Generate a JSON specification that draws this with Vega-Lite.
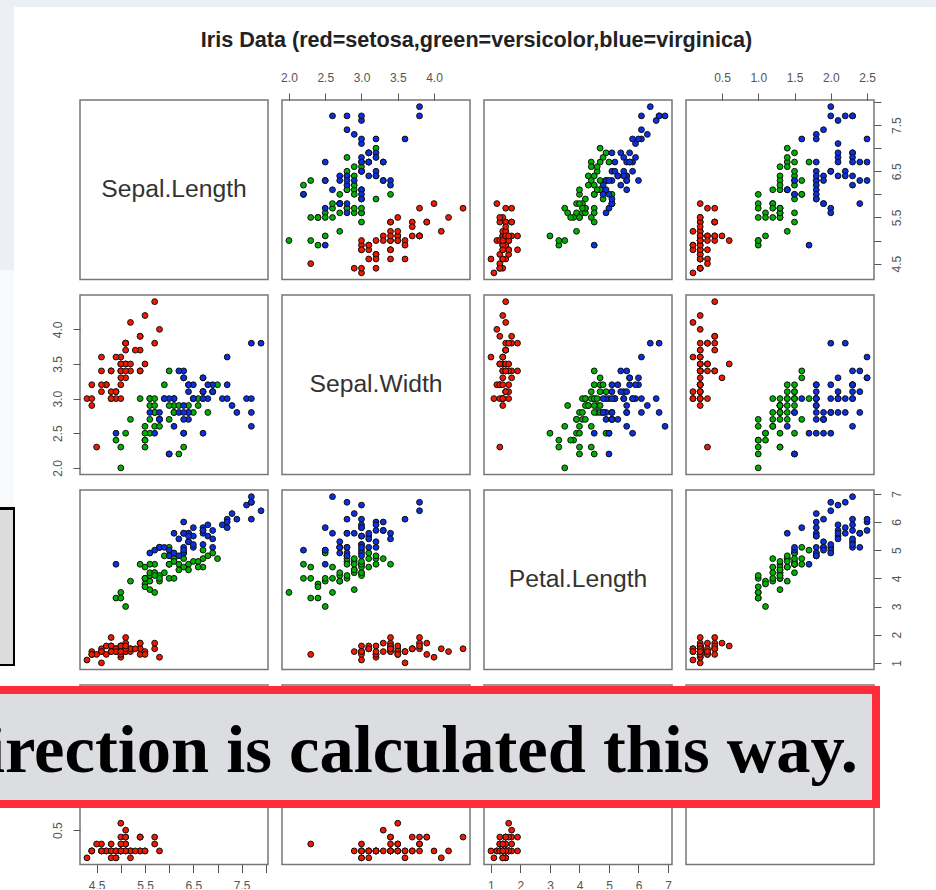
{"$schema":"https://vega.github.io/schema/vega-lite/v6.json","padding":{"left":-15,"top":-1,"right":0,"bottom":-4},"bounds":"flush","columns":4,"spacing":{"row":15,"column":14},
"title":{"text":"Iris Data (red=setosa,green=versicolor,blue=virginica)","font":"Liberation Sans","fontWeight":"bold","fontSize":21.6,"color":"#222222","anchor":"middle","offset":-52,"dx":15.5},
"config":{"view":{"stroke":"#777777","strokeWidth":1.5},"axis":{"domain":false,"grid":false,"ticks":true,"tickColor":"#555555","tickSize":7,"tickWidth":1,"labelColor":"#555555","labelFont":"Liberation Sans","labelFontSize":12,"labelPadding":9,"labelFlush":false,"labelOverlap":false,"title":null}},
"datasets":{"iris":[
{"SL":5.1,"SW":3.5,"PL":1.4,"PW":0.2,"Species":"setosa"},{"SL":4.9,"SW":3.0,"PL":1.4,"PW":0.2,"Species":"setosa"},{"SL":4.7,"SW":3.2,"PL":1.3,"PW":0.2,"Species":"setosa"},{"SL":4.6,"SW":3.1,"PL":1.5,"PW":0.2,"Species":"setosa"},{"SL":5.0,"SW":3.6,"PL":1.4,"PW":0.2,"Species":"setosa"},{"SL":5.4,"SW":3.9,"PL":1.7,"PW":0.4,"Species":"setosa"},{"SL":4.6,"SW":3.4,"PL":1.4,"PW":0.3,"Species":"setosa"},{"SL":5.0,"SW":3.4,"PL":1.5,"PW":0.2,"Species":"setosa"},{"SL":4.4,"SW":2.9,"PL":1.4,"PW":0.2,"Species":"setosa"},{"SL":4.9,"SW":3.1,"PL":1.5,"PW":0.1,"Species":"setosa"},
{"SL":5.4,"SW":3.7,"PL":1.5,"PW":0.2,"Species":"setosa"},{"SL":4.8,"SW":3.4,"PL":1.6,"PW":0.2,"Species":"setosa"},{"SL":4.8,"SW":3.0,"PL":1.4,"PW":0.1,"Species":"setosa"},{"SL":4.3,"SW":3.0,"PL":1.1,"PW":0.1,"Species":"setosa"},{"SL":5.8,"SW":4.0,"PL":1.2,"PW":0.2,"Species":"setosa"},{"SL":5.7,"SW":4.4,"PL":1.5,"PW":0.4,"Species":"setosa"},{"SL":5.4,"SW":3.9,"PL":1.3,"PW":0.4,"Species":"setosa"},{"SL":5.1,"SW":3.5,"PL":1.4,"PW":0.3,"Species":"setosa"},{"SL":5.7,"SW":3.8,"PL":1.7,"PW":0.3,"Species":"setosa"},{"SL":5.1,"SW":3.8,"PL":1.5,"PW":0.3,"Species":"setosa"},
{"SL":5.4,"SW":3.4,"PL":1.7,"PW":0.2,"Species":"setosa"},{"SL":5.1,"SW":3.7,"PL":1.5,"PW":0.4,"Species":"setosa"},{"SL":4.6,"SW":3.6,"PL":1.0,"PW":0.2,"Species":"setosa"},{"SL":5.1,"SW":3.3,"PL":1.7,"PW":0.5,"Species":"setosa"},{"SL":4.8,"SW":3.4,"PL":1.9,"PW":0.2,"Species":"setosa"},{"SL":5.0,"SW":3.0,"PL":1.6,"PW":0.2,"Species":"setosa"},{"SL":5.0,"SW":3.4,"PL":1.6,"PW":0.4,"Species":"setosa"},{"SL":5.2,"SW":3.5,"PL":1.5,"PW":0.2,"Species":"setosa"},{"SL":5.2,"SW":3.4,"PL":1.4,"PW":0.2,"Species":"setosa"},{"SL":4.7,"SW":3.2,"PL":1.6,"PW":0.2,"Species":"setosa"},
{"SL":4.8,"SW":3.1,"PL":1.6,"PW":0.2,"Species":"setosa"},{"SL":5.4,"SW":3.4,"PL":1.5,"PW":0.4,"Species":"setosa"},{"SL":5.2,"SW":4.1,"PL":1.5,"PW":0.1,"Species":"setosa"},{"SL":5.5,"SW":4.2,"PL":1.4,"PW":0.2,"Species":"setosa"},{"SL":4.9,"SW":3.1,"PL":1.5,"PW":0.2,"Species":"setosa"},{"SL":5.0,"SW":3.2,"PL":1.2,"PW":0.2,"Species":"setosa"},{"SL":5.5,"SW":3.5,"PL":1.3,"PW":0.2,"Species":"setosa"},{"SL":4.9,"SW":3.6,"PL":1.4,"PW":0.1,"Species":"setosa"},{"SL":4.4,"SW":3.0,"PL":1.3,"PW":0.2,"Species":"setosa"},{"SL":5.1,"SW":3.4,"PL":1.5,"PW":0.2,"Species":"setosa"},
{"SL":5.0,"SW":3.5,"PL":1.3,"PW":0.3,"Species":"setosa"},{"SL":4.5,"SW":2.3,"PL":1.3,"PW":0.3,"Species":"setosa"},{"SL":4.4,"SW":3.2,"PL":1.3,"PW":0.2,"Species":"setosa"},{"SL":5.0,"SW":3.5,"PL":1.6,"PW":0.6,"Species":"setosa"},{"SL":5.1,"SW":3.8,"PL":1.9,"PW":0.4,"Species":"setosa"},{"SL":4.8,"SW":3.0,"PL":1.4,"PW":0.3,"Species":"setosa"},{"SL":5.1,"SW":3.8,"PL":1.6,"PW":0.2,"Species":"setosa"},{"SL":4.6,"SW":3.2,"PL":1.4,"PW":0.2,"Species":"setosa"},{"SL":5.3,"SW":3.7,"PL":1.5,"PW":0.2,"Species":"setosa"},{"SL":5.0,"SW":3.3,"PL":1.4,"PW":0.2,"Species":"setosa"},
{"SL":7.0,"SW":3.2,"PL":4.7,"PW":1.4,"Species":"versicolor"},{"SL":6.4,"SW":3.2,"PL":4.5,"PW":1.5,"Species":"versicolor"},{"SL":6.9,"SW":3.1,"PL":4.9,"PW":1.5,"Species":"versicolor"},{"SL":5.5,"SW":2.3,"PL":4.0,"PW":1.3,"Species":"versicolor"},{"SL":6.5,"SW":2.8,"PL":4.6,"PW":1.5,"Species":"versicolor"},{"SL":5.7,"SW":2.8,"PL":4.5,"PW":1.3,"Species":"versicolor"},{"SL":6.3,"SW":3.3,"PL":4.7,"PW":1.6,"Species":"versicolor"},{"SL":4.9,"SW":2.4,"PL":3.3,"PW":1.0,"Species":"versicolor"},{"SL":6.6,"SW":2.9,"PL":4.6,"PW":1.3,"Species":"versicolor"},{"SL":5.2,"SW":2.7,"PL":3.9,"PW":1.4,"Species":"versicolor"},
{"SL":5.0,"SW":2.0,"PL":3.5,"PW":1.0,"Species":"versicolor"},{"SL":5.9,"SW":3.0,"PL":4.2,"PW":1.5,"Species":"versicolor"},{"SL":6.0,"SW":2.2,"PL":4.0,"PW":1.0,"Species":"versicolor"},{"SL":6.1,"SW":2.9,"PL":4.7,"PW":1.4,"Species":"versicolor"},{"SL":5.6,"SW":2.9,"PL":3.6,"PW":1.3,"Species":"versicolor"},{"SL":6.7,"SW":3.1,"PL":4.4,"PW":1.4,"Species":"versicolor"},{"SL":5.6,"SW":3.0,"PL":4.5,"PW":1.5,"Species":"versicolor"},{"SL":5.8,"SW":2.7,"PL":4.1,"PW":1.0,"Species":"versicolor"},{"SL":6.2,"SW":2.2,"PL":4.5,"PW":1.5,"Species":"versicolor"},{"SL":5.6,"SW":2.5,"PL":3.9,"PW":1.1,"Species":"versicolor"},
{"SL":5.9,"SW":3.2,"PL":4.8,"PW":1.8,"Species":"versicolor"},{"SL":6.1,"SW":2.8,"PL":4.0,"PW":1.3,"Species":"versicolor"},{"SL":6.3,"SW":2.5,"PL":4.9,"PW":1.5,"Species":"versicolor"},{"SL":6.1,"SW":2.8,"PL":4.7,"PW":1.2,"Species":"versicolor"},{"SL":6.4,"SW":2.9,"PL":4.3,"PW":1.3,"Species":"versicolor"},{"SL":6.6,"SW":3.0,"PL":4.4,"PW":1.4,"Species":"versicolor"},{"SL":6.8,"SW":2.8,"PL":4.8,"PW":1.4,"Species":"versicolor"},{"SL":6.7,"SW":3.0,"PL":5.0,"PW":1.7,"Species":"versicolor"},{"SL":6.0,"SW":2.9,"PL":4.5,"PW":1.5,"Species":"versicolor"},{"SL":5.7,"SW":2.6,"PL":3.5,"PW":1.0,"Species":"versicolor"},
{"SL":5.5,"SW":2.4,"PL":3.8,"PW":1.1,"Species":"versicolor"},{"SL":5.5,"SW":2.4,"PL":3.7,"PW":1.0,"Species":"versicolor"},{"SL":5.8,"SW":2.7,"PL":3.9,"PW":1.2,"Species":"versicolor"},{"SL":6.0,"SW":2.7,"PL":5.1,"PW":1.6,"Species":"versicolor"},{"SL":5.4,"SW":3.0,"PL":4.5,"PW":1.5,"Species":"versicolor"},{"SL":6.0,"SW":3.4,"PL":4.5,"PW":1.6,"Species":"versicolor"},{"SL":6.7,"SW":3.1,"PL":4.7,"PW":1.5,"Species":"versicolor"},{"SL":6.3,"SW":2.3,"PL":4.4,"PW":1.3,"Species":"versicolor"},{"SL":5.6,"SW":3.0,"PL":4.1,"PW":1.3,"Species":"versicolor"},{"SL":5.5,"SW":2.5,"PL":4.0,"PW":1.3,"Species":"versicolor"},
{"SL":5.5,"SW":2.6,"PL":4.4,"PW":1.2,"Species":"versicolor"},{"SL":6.1,"SW":3.0,"PL":4.6,"PW":1.4,"Species":"versicolor"},{"SL":5.8,"SW":2.6,"PL":4.0,"PW":1.2,"Species":"versicolor"},{"SL":5.0,"SW":2.3,"PL":3.3,"PW":1.0,"Species":"versicolor"},{"SL":5.6,"SW":2.7,"PL":4.2,"PW":1.3,"Species":"versicolor"},{"SL":5.7,"SW":3.0,"PL":4.2,"PW":1.2,"Species":"versicolor"},{"SL":5.7,"SW":2.9,"PL":4.2,"PW":1.3,"Species":"versicolor"},{"SL":6.2,"SW":2.9,"PL":4.3,"PW":1.3,"Species":"versicolor"},{"SL":5.1,"SW":2.5,"PL":3.0,"PW":1.1,"Species":"versicolor"},{"SL":5.7,"SW":2.8,"PL":4.1,"PW":1.3,"Species":"versicolor"},
{"SL":6.3,"SW":3.3,"PL":6.0,"PW":2.5,"Species":"virginica"},{"SL":5.8,"SW":2.7,"PL":5.1,"PW":1.9,"Species":"virginica"},{"SL":7.1,"SW":3.0,"PL":5.9,"PW":2.1,"Species":"virginica"},{"SL":6.3,"SW":2.9,"PL":5.6,"PW":1.8,"Species":"virginica"},{"SL":6.5,"SW":3.0,"PL":5.8,"PW":2.2,"Species":"virginica"},{"SL":7.6,"SW":3.0,"PL":6.6,"PW":2.1,"Species":"virginica"},{"SL":4.9,"SW":2.5,"PL":4.5,"PW":1.7,"Species":"virginica"},{"SL":7.3,"SW":2.9,"PL":6.3,"PW":1.8,"Species":"virginica"},{"SL":6.7,"SW":2.5,"PL":5.8,"PW":1.8,"Species":"virginica"},{"SL":7.2,"SW":3.6,"PL":6.1,"PW":2.5,"Species":"virginica"},
{"SL":6.5,"SW":3.2,"PL":5.1,"PW":2.0,"Species":"virginica"},{"SL":6.4,"SW":2.7,"PL":5.3,"PW":1.9,"Species":"virginica"},{"SL":6.8,"SW":3.0,"PL":5.5,"PW":2.1,"Species":"virginica"},{"SL":5.7,"SW":2.5,"PL":5.0,"PW":2.0,"Species":"virginica"},{"SL":5.8,"SW":2.8,"PL":5.1,"PW":2.4,"Species":"virginica"},{"SL":6.4,"SW":3.2,"PL":5.3,"PW":2.3,"Species":"virginica"},{"SL":6.5,"SW":3.0,"PL":5.5,"PW":1.8,"Species":"virginica"},{"SL":7.7,"SW":3.8,"PL":6.7,"PW":2.2,"Species":"virginica"},{"SL":7.7,"SW":2.6,"PL":6.9,"PW":2.3,"Species":"virginica"},{"SL":6.0,"SW":2.2,"PL":5.0,"PW":1.5,"Species":"virginica"},
{"SL":6.9,"SW":3.2,"PL":5.7,"PW":2.3,"Species":"virginica"},{"SL":5.6,"SW":2.8,"PL":4.9,"PW":2.0,"Species":"virginica"},{"SL":7.7,"SW":2.8,"PL":6.7,"PW":2.0,"Species":"virginica"},{"SL":6.3,"SW":2.7,"PL":4.9,"PW":1.8,"Species":"virginica"},{"SL":6.7,"SW":3.3,"PL":5.7,"PW":2.1,"Species":"virginica"},{"SL":7.2,"SW":3.2,"PL":6.0,"PW":1.8,"Species":"virginica"},{"SL":6.2,"SW":2.8,"PL":4.8,"PW":1.8,"Species":"virginica"},{"SL":6.1,"SW":3.0,"PL":4.9,"PW":1.8,"Species":"virginica"},{"SL":6.4,"SW":2.8,"PL":5.6,"PW":2.1,"Species":"virginica"},{"SL":7.2,"SW":3.0,"PL":5.8,"PW":1.6,"Species":"virginica"},
{"SL":7.4,"SW":2.8,"PL":6.1,"PW":1.9,"Species":"virginica"},{"SL":7.9,"SW":3.8,"PL":6.4,"PW":2.0,"Species":"virginica"},{"SL":6.4,"SW":2.8,"PL":5.6,"PW":2.2,"Species":"virginica"},{"SL":6.3,"SW":2.8,"PL":5.1,"PW":1.5,"Species":"virginica"},{"SL":6.1,"SW":2.6,"PL":5.6,"PW":1.4,"Species":"virginica"},{"SL":7.7,"SW":3.0,"PL":6.1,"PW":2.3,"Species":"virginica"},{"SL":6.3,"SW":3.4,"PL":5.6,"PW":2.4,"Species":"virginica"},{"SL":6.4,"SW":3.1,"PL":5.5,"PW":1.8,"Species":"virginica"},{"SL":6.0,"SW":3.0,"PL":4.8,"PW":1.8,"Species":"virginica"},{"SL":6.9,"SW":3.1,"PL":5.4,"PW":2.1,"Species":"virginica"},
{"SL":6.7,"SW":3.1,"PL":5.6,"PW":2.4,"Species":"virginica"},{"SL":6.9,"SW":3.1,"PL":5.1,"PW":2.3,"Species":"virginica"},{"SL":5.8,"SW":2.7,"PL":5.1,"PW":1.9,"Species":"virginica"},{"SL":6.8,"SW":3.2,"PL":5.9,"PW":2.3,"Species":"virginica"},{"SL":6.7,"SW":3.3,"PL":5.7,"PW":2.5,"Species":"virginica"},{"SL":6.7,"SW":3.0,"PL":5.2,"PW":2.3,"Species":"virginica"},{"SL":6.3,"SW":2.5,"PL":5.0,"PW":1.9,"Species":"virginica"},{"SL":6.5,"SW":3.0,"PL":5.2,"PW":2.0,"Species":"virginica"},{"SL":6.2,"SW":3.4,"PL":5.4,"PW":2.3,"Species":"virginica"},{"SL":5.9,"SW":3.0,"PL":5.1,"PW":1.8,"Species":"virginica"}
]},
"concat":[
{"width":188,"height":179.5,"data":{"values":[{"name":"Sepal.Length"}]},"layer":[
{"mark":{"type":"rect","fill":"#ffffff"},"encoding":{"x":{"datum":-0.42553,"type":"quantitative","axis":null,"scale":{"domain":[0,1]}},"x2":{"datum":4.55319},"y":{"datum":-0.5571,"type":"quantitative","axis":null,"scale":{"domain":[0,1],"reverse":true}},"y2":{"datum":4.40111}}},
{"mark":{"type":"rect","fill":"#eceff5"},"encoding":{"x":{"datum":-0.42553,"type":"quantitative","axis":null},"x2":{"datum":4.55319},"y":{"datum":-0.5571,"type":"quantitative","axis":null},"y2":{"datum":-0.5181}}},
{"mark":{"type":"rect","fill":"#eceff5"},"encoding":{"x":{"datum":-0.42553,"type":"quantitative","axis":null},"x2":{"datum":-0.35106},"y":{"datum":-0.5181,"type":"quantitative","axis":null},"y2":{"datum":0.94708}}},
{"mark":{"type":"rect","fill":"#f8f9fb"},"encoding":{"x":{"datum":-0.42553,"type":"quantitative","axis":null},"x2":{"datum":-0.35106},"y":{"datum":0.94708,"type":"quantitative","axis":null},"y2":{"datum":2.26704}}},
{"mark":{"type":"rect","fill":"#000000"},"encoding":{"x":{"datum":-0.42553,"type":"quantitative","axis":null},"x2":{"datum":-0.34574},"y":{"datum":2.26704,"type":"quantitative","axis":null},"y2":{"datum":3.15292}}},
{"mark":{"type":"rect","fill":"#dcdcdc"},"encoding":{"x":{"datum":-0.42553,"type":"quantitative","axis":null},"x2":{"datum":-0.35638},"y":{"datum":2.2837,"type":"quantitative","axis":null},"y2":{"datum":3.1421}}},
{"mark":{"type":"rect","fillOpacity":0,"stroke":"#777777","strokeWidth":1.5},"encoding":{"x":{"datum":0,"type":"quantitative","axis":null},"x2":{"datum":1},"y":{"datum":0,"type":"quantitative","axis":null},"y2":{"datum":1}}},
{"mark":{"type":"text","font":"Liberation Sans","fontSize":24.7,"color":"#333333"},"encoding":{"text":{"field":"name"}}}
]},
{"width":188,"height":179.5,"data":{"name":"iris"},"mark":{"type":"circle","size":34,"stroke":"#111111","strokeWidth":1,"opacity":1},"encoding":{"x":{"field":"SW","type":"quantitative","scale":{"domain":[1.904,4.496],"nice":false,"zero":false},"axis":{"orient":"top","values":[2,2.5,3,3.5,4],"format":".1f"}},"y":{"field":"SL","type":"quantitative","scale":{"domain":[4.156,8.044],"nice":false,"zero":false},"axis":null},"color":{"field":"Species","type":"nominal","legend":null,"scale":{"domain":["setosa","versicolor","virginica"],"range":["#f01a00","#00b000","#0a30e0"]}}}},
{"width":188,"height":179.5,"data":{"name":"iris"},"mark":{"type":"circle","size":34,"stroke":"#111111","strokeWidth":1,"opacity":1},"encoding":{"x":{"field":"PL","type":"quantitative","scale":{"domain":[0.764,7.136],"nice":false,"zero":false},"axis":null},"y":{"field":"SL","type":"quantitative","scale":{"domain":[4.156,8.044],"nice":false,"zero":false},"axis":null},"color":{"field":"Species","type":"nominal","legend":null,"scale":{"domain":["setosa","versicolor","virginica"],"range":["#f01a00","#00b000","#0a30e0"]}}}},
{"width":188,"height":179.5,"data":{"name":"iris"},"mark":{"type":"circle","size":34,"stroke":"#111111","strokeWidth":1,"opacity":1},"encoding":{"x":{"field":"PW","type":"quantitative","scale":{"domain":[0.004,2.596],"nice":false,"zero":false},"axis":{"orient":"top","values":[0.5,1,1.5,2,2.5],"format":".1f"}},"y":{"field":"SL","type":"quantitative","scale":{"domain":[4.156,8.044],"nice":false,"zero":false},"axis":{"orient":"right","values":[4.5,5,5.5,6,6.5,7,7.5,8],"format":".1f","labelExpr":"(datum.value==4.5||datum.value==5.5||datum.value==6.5||datum.value==7.5)?datum.label:''","labelAngle":270,"labelAlign":"center","labelBaseline":"top","labelPadding":10}},"color":{"field":"Species","type":"nominal","legend":null,"scale":{"domain":["setosa","versicolor","virginica"],"range":["#f01a00","#00b000","#0a30e0"]}}}},

{"width":188,"height":179.5,"data":{"name":"iris"},"mark":{"type":"circle","size":34,"stroke":"#111111","strokeWidth":1,"opacity":1},"encoding":{"x":{"field":"SL","type":"quantitative","scale":{"domain":[4.156,8.044],"nice":false,"zero":false},"axis":null},"y":{"field":"SW","type":"quantitative","scale":{"domain":[1.904,4.496],"nice":false,"zero":false},"axis":{"orient":"left","values":[2,2.5,3,3.5,4],"format":".1f","labelAngle":270,"labelAlign":"center","labelBaseline":"bottom","labelPadding":9}},"color":{"field":"Species","type":"nominal","legend":null,"scale":{"domain":["setosa","versicolor","virginica"],"range":["#f01a00","#00b000","#0a30e0"]}}}},
{"width":188,"height":179.5,"view":{"stroke":"#777777","strokeWidth":1.5},"data":{"values":[{"name":"Sepal.Width"}]},"mark":{"type":"text","font":"Liberation Sans","fontSize":24.7,"color":"#333333"},"encoding":{"text":{"field":"name"}}},
{"width":188,"height":179.5,"data":{"name":"iris"},"mark":{"type":"circle","size":34,"stroke":"#111111","strokeWidth":1,"opacity":1},"encoding":{"x":{"field":"PL","type":"quantitative","scale":{"domain":[0.764,7.136],"nice":false,"zero":false},"axis":null},"y":{"field":"SW","type":"quantitative","scale":{"domain":[1.904,4.496],"nice":false,"zero":false},"axis":null},"color":{"field":"Species","type":"nominal","legend":null,"scale":{"domain":["setosa","versicolor","virginica"],"range":["#f01a00","#00b000","#0a30e0"]}}}},
{"width":188,"height":179.5,"data":{"name":"iris"},"mark":{"type":"circle","size":34,"stroke":"#111111","strokeWidth":1,"opacity":1},"encoding":{"x":{"field":"PW","type":"quantitative","scale":{"domain":[0.004,2.596],"nice":false,"zero":false},"axis":null},"y":{"field":"SW","type":"quantitative","scale":{"domain":[1.904,4.496],"nice":false,"zero":false},"axis":null},"color":{"field":"Species","type":"nominal","legend":null,"scale":{"domain":["setosa","versicolor","virginica"],"range":["#f01a00","#00b000","#0a30e0"]}}}},

{"width":188,"height":179.5,"data":{"name":"iris"},"mark":{"type":"circle","size":34,"stroke":"#111111","strokeWidth":1,"opacity":1},"encoding":{"x":{"field":"SL","type":"quantitative","scale":{"domain":[4.156,8.044],"nice":false,"zero":false},"axis":null},"y":{"field":"PL","type":"quantitative","scale":{"domain":[0.764,7.136],"nice":false,"zero":false},"axis":null},"color":{"field":"Species","type":"nominal","legend":null,"scale":{"domain":["setosa","versicolor","virginica"],"range":["#f01a00","#00b000","#0a30e0"]}}}},
{"width":188,"height":179.5,"data":{"name":"iris"},"mark":{"type":"circle","size":34,"stroke":"#111111","strokeWidth":1,"opacity":1},"encoding":{"x":{"field":"SW","type":"quantitative","scale":{"domain":[1.904,4.496],"nice":false,"zero":false},"axis":null},"y":{"field":"PL","type":"quantitative","scale":{"domain":[0.764,7.136],"nice":false,"zero":false},"axis":null},"color":{"field":"Species","type":"nominal","legend":null,"scale":{"domain":["setosa","versicolor","virginica"],"range":["#f01a00","#00b000","#0a30e0"]}}}},
{"width":188,"height":179.5,"view":{"stroke":"#777777","strokeWidth":1.5},"data":{"values":[{"name":"Petal.Length"}]},"mark":{"type":"text","font":"Liberation Sans","fontSize":24.7,"color":"#333333"},"encoding":{"text":{"field":"name"}}},
{"width":188,"height":179.5,"data":{"name":"iris"},"mark":{"type":"circle","size":34,"stroke":"#111111","strokeWidth":1,"opacity":1},"encoding":{"x":{"field":"PW","type":"quantitative","scale":{"domain":[0.004,2.596],"nice":false,"zero":false},"axis":null},"y":{"field":"PL","type":"quantitative","scale":{"domain":[0.764,7.136],"nice":false,"zero":false},"axis":{"orient":"right","values":[1,2,3,4,5,6,7],"format":"d","labelAngle":270,"labelAlign":"center","labelBaseline":"top","labelPadding":10}},"color":{"field":"Species","type":"nominal","legend":null,"scale":{"domain":["setosa","versicolor","virginica"],"range":["#f01a00","#00b000","#0a30e0"]}}}},

{"width":188,"height":179.5,"data":{"name":"iris"},"mark":{"type":"circle","size":34,"stroke":"#111111","strokeWidth":1,"opacity":1},"encoding":{"x":{"field":"SL","type":"quantitative","scale":{"domain":[4.156,8.044],"nice":false,"zero":false},"axis":{"orient":"bottom","values":[4.5,5,5.5,6,6.5,7,7.5,8],"format":".1f","tickSize":8,"labelPadding":8,"labelExpr":"(datum.value==4.5||datum.value==5.5||datum.value==6.5||datum.value==7.5)?datum.label:''"}},"y":{"field":"PW","type":"quantitative","scale":{"domain":[0.004,2.596],"nice":false,"zero":false},"axis":{"orient":"left","values":[0.5,1,1.5,2,2.5],"format":".1f","labelExpr":"datum.value==0.5?datum.label:''","labelAngle":270,"labelAlign":"center","labelBaseline":"bottom","labelPadding":9}},"color":{"field":"Species","type":"nominal","legend":null,"scale":{"domain":["setosa","versicolor","virginica"],"range":["#f01a00","#00b000","#0a30e0"]}}}},
{"width":188,"height":179.5,"data":{"name":"iris"},"mark":{"type":"circle","size":34,"stroke":"#111111","strokeWidth":1,"opacity":1},"encoding":{"x":{"field":"SW","type":"quantitative","scale":{"domain":[1.904,4.496],"nice":false,"zero":false},"axis":null},"y":{"field":"PW","type":"quantitative","scale":{"domain":[0.004,2.596],"nice":false,"zero":false},"axis":null},"color":{"field":"Species","type":"nominal","legend":null,"scale":{"domain":["setosa","versicolor","virginica"],"range":["#f01a00","#00b000","#0a30e0"]}}}},
{"width":188,"height":179.5,"data":{"name":"iris"},"mark":{"type":"circle","size":34,"stroke":"#111111","strokeWidth":1,"opacity":1},"encoding":{"x":{"field":"PL","type":"quantitative","scale":{"domain":[0.764,7.136],"nice":false,"zero":false},"axis":{"orient":"bottom","values":[1,2,3,4,5,6,7],"format":"d","tickSize":8,"labelPadding":8}},"y":{"field":"PW","type":"quantitative","scale":{"domain":[0.004,2.596],"nice":false,"zero":false},"axis":null},"color":{"field":"Species","type":"nominal","legend":null,"scale":{"domain":["setosa","versicolor","virginica"],"range":["#f01a00","#00b000","#0a30e0"]}}}},
{"width":188,"height":179.5,"data":{"values":[{"name":"banner"}]},"layer":[
{"mark":{"type":"rect","fill":"#dcdde0"},"encoding":{"x":{"datum":-3.64894,"type":"quantitative","axis":null,"scale":{"domain":[0,1]}},"x2":{"datum":0.98936},"y":{"datum":0.05014,"type":"quantitative","axis":null,"scale":{"domain":[0,1],"reverse":true}},"y2":{"datum":0.64067}}},
{"mark":{"type":"rect","fill":"#ff2d3a"},"encoding":{"x":{"datum":-3.64894,"type":"quantitative","axis":null},"x2":{"datum":1.03191},"y":{"datum":0.00557,"type":"quantitative","axis":null},"y2":{"datum":0.05014}}},
{"mark":{"type":"rect","fill":"#ff2d3a"},"encoding":{"x":{"datum":-3.64894,"type":"quantitative","axis":null},"x2":{"datum":1.03191},"y":{"datum":0.64067,"type":"quantitative","axis":null},"y2":{"datum":0.68524}}},
{"mark":{"type":"rect","fill":"#ff2d3a"},"encoding":{"x":{"datum":0.98936,"type":"quantitative","axis":null},"x2":{"datum":1.03191},"y":{"datum":0.05014,"type":"quantitative","axis":null},"y2":{"datum":0.64067}}},
{"mark":{"type":"text","font":"Liberation Serif","fontWeight":"bold","fontSize":68.5,"color":"#000000","align":"right","baseline":"alphabetic"},"encoding":{"text":{"datum":"irection is calculated this way."},"x":{"datum":0.91489,"type":"quantitative","axis":null},"y":{"datum":0.48468,"type":"quantitative","axis":null}}}
]}
]}
